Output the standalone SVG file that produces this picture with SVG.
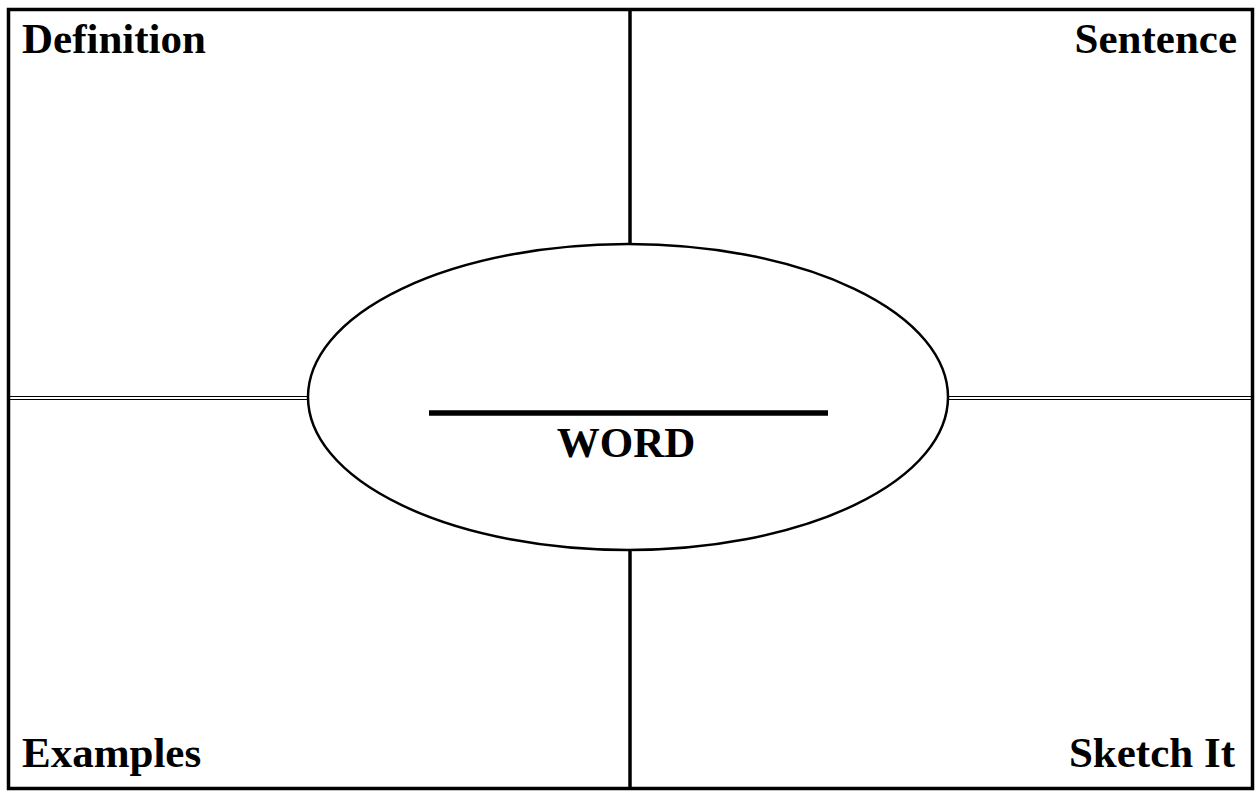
<svg xmlns="http://www.w3.org/2000/svg" width="1259" height="793" viewBox="0 0 1259 793">
<style>
.lbl{font-family:"Liberation Serif","Times New Roman",serif;font-weight:bold;font-size:43px;fill:#000}
.ln{stroke:#000;fill:none}
.dbl{stroke:#000;stroke-width:1.2;shape-rendering:crispEdges}
</style>
<rect width="1259" height="793" fill="#fff"/>
<g id="connectors">
<rect class="ln" x="8.5" y="9.5" width="1244" height="779" stroke-width="3.5"/>
<line class="ln" x1="630" y1="10" x2="630" y2="244" stroke-width="3.5"/>
<line class="ln" x1="630" y1="550" x2="630" y2="788" stroke-width="3.5"/>
<line class="dbl" x1="10" y1="396.5" x2="308" y2="396.5"/>
<line class="dbl" x1="10" y1="399.5" x2="308" y2="399.5"/>
<line class="dbl" x1="948" y1="396.5" x2="1252" y2="396.5"/>
<line class="dbl" x1="948" y1="399.5" x2="1252" y2="399.5"/>
</g>
<g id="center">
<ellipse class="ln" cx="628" cy="397" rx="320" ry="153" fill="#fff" stroke-width="2.5"/>
<line class="ln" x1="429" y1="413" x2="828" y2="413" stroke-width="5.5"/>
<text class="lbl" x="626" y="457" text-anchor="middle">WORD</text>
</g>
<g id="definition"><text class="lbl" x="22" y="53">Definition</text></g>
<g id="sentence"><text class="lbl" x="1237" y="53" text-anchor="end">Sentence</text></g>
<g id="examples"><text class="lbl" x="22" y="767">Examples</text></g>
<g id="sketch"><text class="lbl" x="1235" y="767" text-anchor="end">Sketch It</text></g>
</svg>
